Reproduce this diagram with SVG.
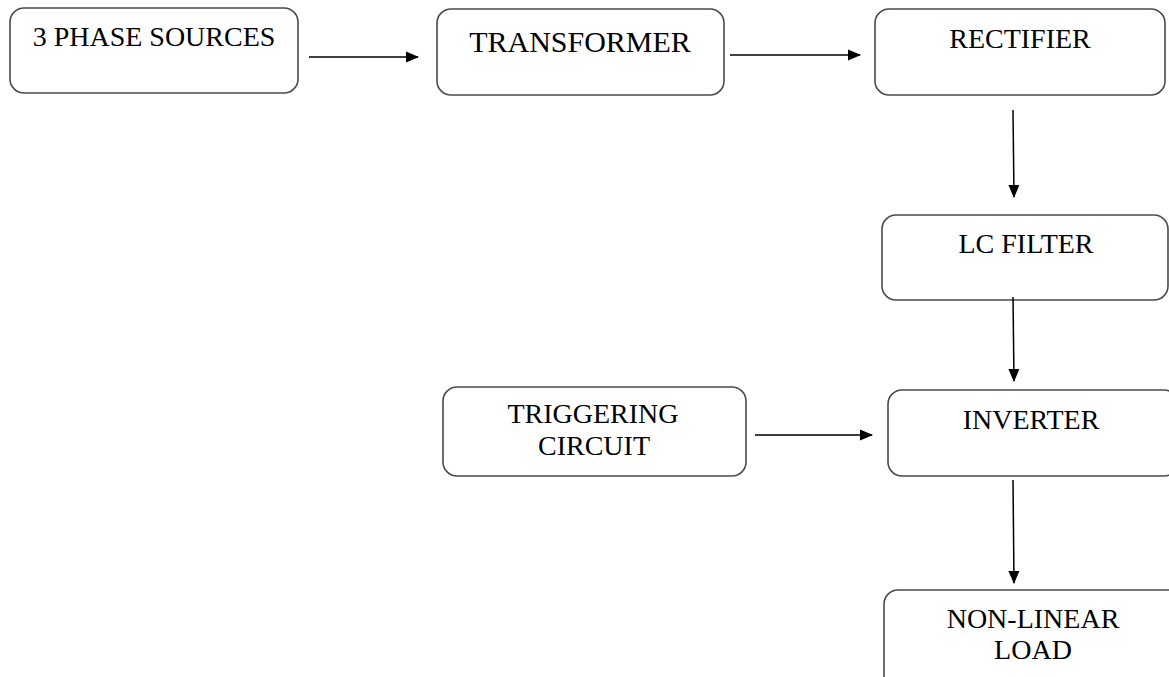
<svg xmlns="http://www.w3.org/2000/svg" width="1169" height="677" viewBox="0 0 1169 677">
<defs>
<marker id="ah" markerWidth="13" markerHeight="12" refX="12" refY="6" orient="auto" markerUnits="userSpaceOnUse">
<path d="M0,0.5 L13,6 L0,11.5 Z" fill="#000"/>
</marker>
<style>
.box{fill:#fff;stroke:#4a4a4a;stroke-width:1.6}
.lbl{font-family:"Liberation Serif","Times New Roman",serif;font-size:28px;fill:#000;text-anchor:middle}
.con{stroke:#000;stroke-width:1.5;fill:none;marker-end:url(#ah)}
</style>
</defs>
<rect width="1169" height="677" fill="#fff"/>
<g id="n-sources"><rect class="box" x="10" y="8" width="288" height="85" rx="14"/><text class="lbl" x="154" y="46">3 PHASE SOURCES</text></g>
<g id="n-transformer"><rect class="box" x="437" y="9" width="287" height="86" rx="14"/><text class="lbl" x="580" y="52" style="font-size:30px">TRANSFORMER</text></g>
<g id="n-rectifier"><rect class="box" x="875" y="9" width="290" height="86" rx="14"/><text class="lbl" x="1020" y="48">RECTIFIER</text></g>
<g id="n-lcfilter"><rect class="box" x="882" y="215" width="286" height="85" rx="14"/><text class="lbl" x="1026" y="253">LC FILTER</text></g>
<g id="n-inverter"><rect class="box" x="888" y="390" width="290" height="86" rx="14"/><text class="lbl" x="1031" y="429">INVERTER</text></g>
<g id="n-trigger"><rect class="box" x="443" y="387" width="303" height="89" rx="14"/><text class="lbl" x="593" y="423">TRIGGERING</text><text class="lbl" x="594" y="455">CIRCUIT</text></g>
<g id="n-load"><rect class="box" x="884" y="590" width="300" height="110" rx="14"/><text class="lbl" x="1033" y="628">NON-LINEAR</text><text class="lbl" x="1033" y="659">LOAD</text></g>
<g id="connectors">
<line class="con" x1="309" y1="57" x2="418" y2="57"/>
<line class="con" x1="730" y1="55" x2="860" y2="55"/>
<line class="con" x1="1013" y1="110" x2="1014" y2="197"/>
<line class="con" x1="1013" y1="297" x2="1014" y2="381"/>
<line class="con" x1="755" y1="435" x2="872" y2="435"/>
<line class="con" x1="1013" y1="480" x2="1014" y2="583"/>
</g>
</svg>
